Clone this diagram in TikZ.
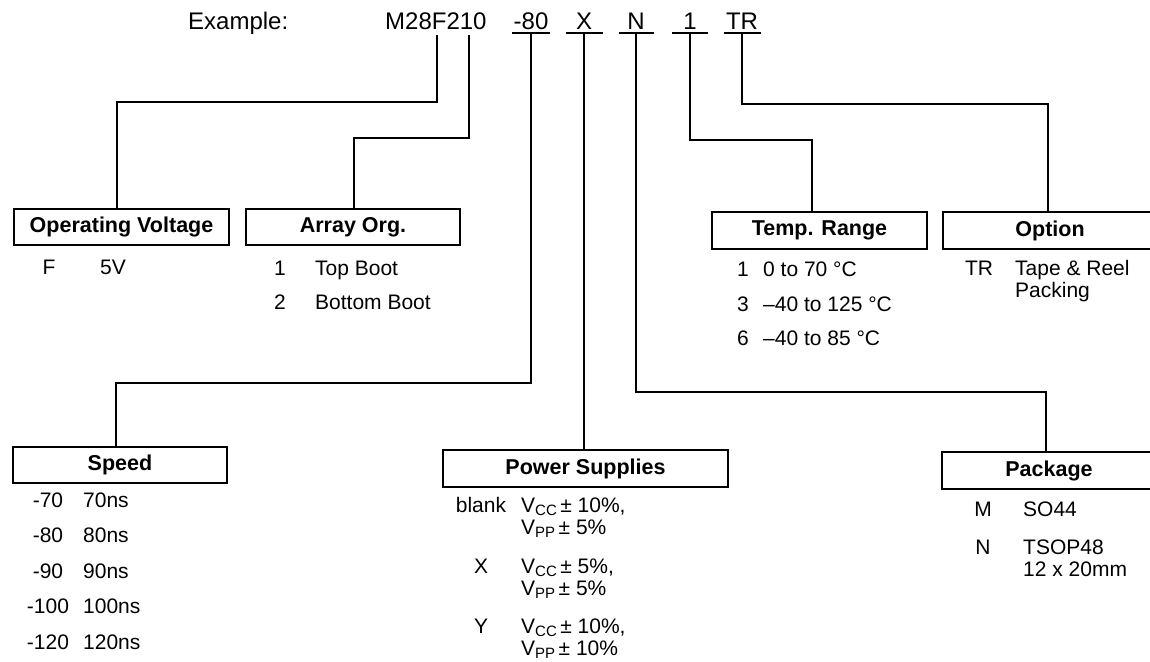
\documentclass[tikz,border=0pt]{standalone}
\usepackage{fontspec}
\setmainfont{Liberation Sans}
\newcommand{\bodyfont}{\fontsize{21}{22}\selectfont}
\newcommand{\hdrfont}{\bfseries\fontsize{21.5}{22}\selectfont}
\newcommand{\ttlfont}{\fontsize{24}{26}\selectfont}
\newcommand{\sbs}[1]{\raisebox{-3pt}{\fontsize{15}{15}\selectfont #1}}
\tikzset{
  ln/.style={line width=2pt},
  box/.style={draw, line width=2pt, inner sep=0pt, anchor=north west, font=\hdrfont},
  key/.style={anchor=base, inner sep=0pt, font=\bodyfont},
  val/.style={anchor=base west, inner sep=0pt, font=\bodyfont},
  ttl/.style={inner sep=0pt, font=\ttlfont}
}
\begin{document}
\begin{tikzpicture}[x=1pt,y=-1pt]
\useasboundingbox (0,0) rectangle (1150,661);
% title row
\node[ttl, anchor=base west] (ex) at (188,30) {Example:};
\node[ttl, anchor=base west] (mp) at (385,30) {M28F210};
\node[ttl, anchor=base] (c80) at (531,30) {-80};
\node[ttl, anchor=base] (cX) at (584,30) {X};
\node[ttl, anchor=base] (cN) at (636,30) {N};
\node[ttl, anchor=base] (c1) at (690,30) {1};
\node[ttl, anchor=base] (cTR) at (742,30) {TR};
\draw[ln] (512,33) -- (550,33);
\draw[ln] (566,33) -- (603,33);
\draw[ln] (619,33) -- (654,33);
\draw[ln] (672,33) -- (708,33);
\draw[ln] (724,33) -- (761,33);
\coordinate (pF) at (437,35);
\coordinate (p1) at (469,35);
\coordinate (t80) at (531,33);
\coordinate (tX) at (584,33);
\coordinate (tN) at (636,33);
\coordinate (t1) at (690,33);
\coordinate (tTR) at (742,33);
% boxes
\node[box, minimum width=215pt, minimum height=36pt] (opv) at (13,208) {Operating Voltage};
\node[box, minimum width=214pt, minimum height=36pt] (arr) at (245,208) {Array Org.};
\node[box, minimum width=215pt, minimum height=37pt] (tmp) at (711,211) {Temp. Range};
\node[box, minimum width=214pt, minimum height=37pt] (opt) at (942,211) {Option};
\node[box, minimum width=214pt, minimum height=36pt] (spd) at (12,446) {Speed};
\node[box, minimum width=285pt, minimum height=37pt] (pwr) at (442,449) {Power Supplies};
\node[box, minimum width=214pt, minimum height=37pt] (pkg) at (941,451) {Package};
% connectors
\draw[ln] (pF) -- (pF |- 0,102) -- (117,102) -- (117,208);
\draw[ln] (p1) -- (p1 |- 0,138) -- (354,138) -- (354,208);
\draw[ln] (t80) -- (t80 |- 0,383) -- (116,383) -- (116,446);
\draw[ln] (tX) -- (tX |- pwr.north);
\draw[ln] (tN) -- (tN |- 0,392) -- (1046,392) -- (1046,451);
\draw[ln] (t1) -- (t1 |- 0,140) -- (812,140) -- (812,211);
\draw[ln] (tTR) -- (tTR |- 0,104) -- (1048,104) -- (1048,211);
% operating voltage
\node[key] (opvk1) at (49,274) {F};
\node[val] (opvv1) at (100,274) {5V};
% array org
\node[key] (arrk1) at (280,275) {1};
\node[val] (arrv1) at (315,275) {Top Boot};
\node[key] (arrk2) at (280,309) {2};
\node[val] (arrv2) at (315,309) {Bottom Boot};
% temp range
\node[key] (tmpk1) at (743,276) {1};
\node[val] (tmpv1) at (763,276) {0 to 70 °C};
\node[key] (tmpk3) at (743,311) {3};
\node[val] (tmpv3) at (763,311) {–40 to 125 °C};
\node[key] (tmpk6) at (743,345) {6};
\node[val] (tmpv6) at (763,345) {–40 to 85 °C};
% option
\node[key] (optk1) at (979,275) {TR};
\node[val] (optv1a) at (1015,275) {Tape \& Reel};
\node[val] (optv1b) at (1015,297) {Packing};
% speed
\node[key] (spdk1) at (48,507) {-70};
\node[val] (spdv1) at (83,507) {70ns};
\node[key] (spdk2) at (48,542) {-80};
\node[val] (spdv2) at (83,542) {80ns};
\node[key] (spdk3) at (48,578) {-90};
\node[val] (spdv3) at (83,578) {90ns};
\node[key] (spdk4) at (48,613) {-100};
\node[val] (spdv4) at (83,613) {100ns};
\node[key] (spdk5) at (48,649) {-120};
\node[val] (spdv5) at (83,649) {120ns};
% power supplies
\node[key] (pwrk1) at (481,512) {blank};
\node[val] (pwrv1a) at (521,512) {V\sbs{CC}\,± 10\%,};
\node[val] (pwrv1b) at (521,534) {V\sbs{PP}\,± 5\%};
\node[key] (pwrk2) at (481,573) {X};
\node[val] (pwrv2a) at (521,573) {V\sbs{CC}\,± 5\%,};
\node[val] (pwrv2b) at (521,595) {V\sbs{PP}\,± 5\%};
\node[key] (pwrk3) at (481,633) {Y};
\node[val] (pwrv3a) at (521,633) {V\sbs{CC}\,± 10\%,};
\node[val] (pwrv3b) at (521,655) {V\sbs{PP}\,± 10\%};
% package
\node[key] (pkgk1) at (983,516) {M};
\node[val] (pkgv1) at (1023,516) {SO44};
\node[key] (pkgk2) at (983,554) {N};
\node[val] (pkgv2a) at (1023,554) {TSOP48};
\node[val] (pkgv2b) at (1023,576) {12 x 20mm};
\end{tikzpicture}
\end{document}
